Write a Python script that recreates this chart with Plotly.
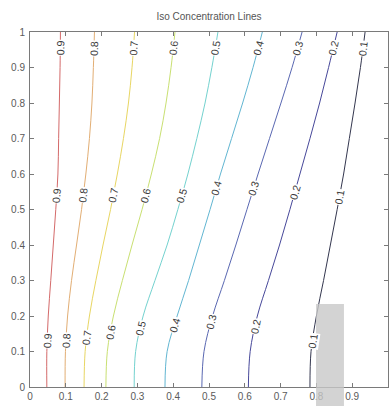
import numpy as np
import plotly.graph_objects as go

# Iso-concentration contour lines: x position of each level at y = 0, 0.1, ..., 1.0
y_levels = [0.0, 0.1, 0.2, 0.3, 0.4, 0.5, 0.6, 0.7, 0.8, 0.9, 1.0]
conc_levels = [0.1, 0.2, 0.3, 0.4, 0.5, 0.6, 0.7, 0.8, 0.9]

x_c01 = [0.782, 0.785, 0.800, 0.820, 0.839, 0.858, 0.876, 0.892, 0.908, 0.923, 0.936]
x_c02 = [0.610, 0.615, 0.635, 0.666, 0.697, 0.726, 0.754, 0.782, 0.809, 0.834, 0.858]
x_c03 = [0.480, 0.486, 0.510, 0.543, 0.575, 0.606, 0.637, 0.669, 0.701, 0.732, 0.760]
x_c04 = [0.377, 0.383, 0.411, 0.443, 0.473, 0.503, 0.532, 0.563, 0.594, 0.623, 0.649]
x_c05 = [0.291, 0.295, 0.316, 0.349, 0.383, 0.413, 0.441, 0.466, 0.489, 0.508, 0.525]
x_c06 = [0.212, 0.216, 0.233, 0.258, 0.285, 0.313, 0.339, 0.362, 0.380, 0.394, 0.405]
x_c07 = [0.151, 0.154, 0.166, 0.184, 0.204, 0.225, 0.244, 0.261, 0.275, 0.285, 0.292]
x_c08 = [0.098, 0.099, 0.105, 0.116, 0.130, 0.144, 0.156, 0.166, 0.173, 0.177, 0.180]
x_c09 = [0.047, 0.047, 0.051, 0.058, 0.065, 0.072, 0.078, 0.080, 0.082, 0.084, 0.085]

tick_vals = [0, 0.1, 0.2, 0.3, 0.4, 0.5, 0.6, 0.7, 0.8, 0.9, 1]
tick_text = ["0", "0.1", "0.2", "0.3", "0.4", "0.5", "0.6", "0.7", "0.8", "0.9", "1"]

contours = [x_c01, x_c02, x_c03, x_c04, x_c05, x_c06, x_c07, x_c08, x_c09]
colors = ["#34374f", "#47489a", "#5a68b2", "#62b6d2", "#74d2cf",
          "#c9e072", "#e8d663", "#e2ae74", "#d46a6a"]

# Inline label heights (y) on each line: bottom, middle, top rows
label_rows = [
    [0.13, 0.17, 0.183, 0.175, 0.166, 0.155, 0.14, 0.13, 0.13],
    [0.535, 0.55, 0.56, 0.56, 0.54, 0.54, 0.54, 0.54, 0.54],
    [0.955] * 9,
]

W, H = 390, 406
L, R, T, B = 30, 2, 32, 19
pw, ph = W - L - R, H - T - B

fig = go.Figure()
annotations = []
for lev, xs, col in zip(conc_levels, contours, colors):
    fig.add_trace(go.Scatter(
        x=xs, y=y_levels, mode="lines",
        line=dict(color=col, width=1, shape="spline", smoothing=1),
        hoverinfo="skip", showlegend=False,
    ))

for row in label_rows:
    for i, (lev, xs) in enumerate(zip(conc_levels, contours)):
        ly = row[i]
        lx = float(np.interp(ly, y_levels, xs))
        k = min(int(ly * 10), 9)
        dxp = (xs[k + 1] - xs[k]) * pw
        dyp = (y_levels[k + 1] - y_levels[k]) * ph
        ang = np.degrees(np.arctan2(dyp, dxp))
        annotations.append(dict(
            x=lx, y=ly, xref="x", yref="y", text=f"{lev:.1f}",
            showarrow=False, textangle=-ang, bgcolor="white", borderpad=0,
            font=dict(family="Liberation Sans", size=10.5, color="#3a3a3a"),
        ))

axis_common = dict(
    range=[0, 1], tickvals=tick_vals, ticktext=tick_text,
    ticks="inside", ticklen=4, tickwidth=1, tickcolor="#7a7a7a",
    showline=True, linecolor="#7a7a7a", linewidth=1, mirror="ticks",
    showgrid=False, zeroline=False,
    tickfont=dict(family="Liberation Sans", size=10, color="#5a5a5a"),
)

fig.update_layout(
    width=W, height=H,
    margin=dict(l=L, r=R, t=T, b=B),
    paper_bgcolor="white", plot_bgcolor="white",
    xaxis=dict(**axis_common, ticklabelstandoff=0),
    yaxis=dict(**axis_common, ticklabelstandoff=2),
    title=dict(text="Iso Concentration Lines", x=(L + pw / 2) / W, xanchor="center",
               y=1 - 16 / H, yanchor="middle",
               font=dict(family="Liberation Sans Narrow, Liberation Sans", size=10, color="#555555")),
    annotations=annotations,
    shapes=[dict(type="rect", xref="paper", yref="paper",
                 x0=0.799, x1=0.877, y0=-0.06, y1=0.234,
                 fillcolor="#c8c8c8", opacity=0.8, line=dict(width=0), layer="above")],
)

fig.write_html("out.html")
